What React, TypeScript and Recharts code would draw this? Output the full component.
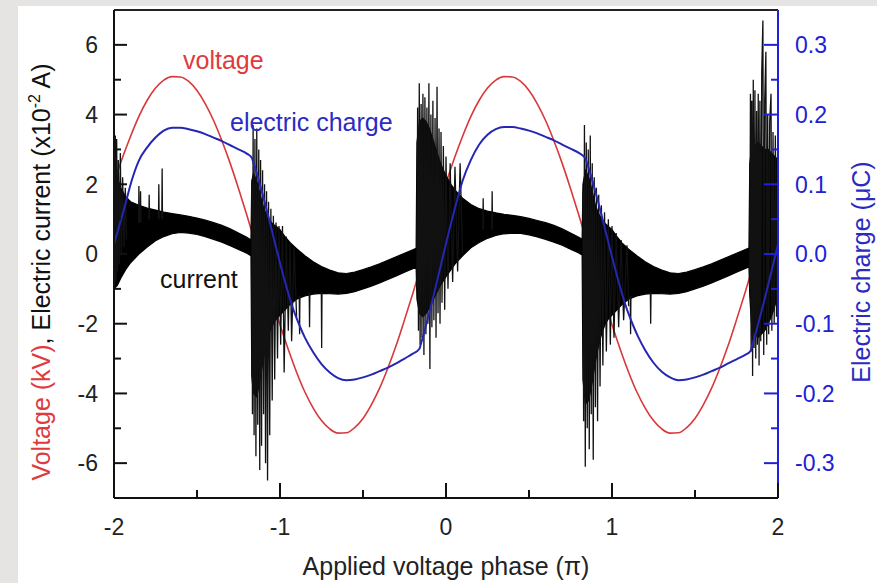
import React from "react";
import { ComposedChart, Line, Area, XAxis, YAxis, ReferenceLine } from "recharts";

const FONT = "'Liberation Sans', Arial, Helvetica, sans-serif";
const RED = "#d8383a";
const BLUE = "#2626b4";
const AXIS_BLUE = "#2020d8";

// tick positions
const phaseTicks = [-2, -1.5, -1, -0.5, 0, 0.5, 1, 1.5, 2];
const leftTicks = [-6, -5, -4, -3, -2, -1, 0, 1, 2, 3, 4, 5, 6];
const rightTicks = [-0.3, -0.25, -0.2, -0.15, -0.1, -0.05, 0, 0.05, 0.1, 0.15, 0.2, 0.25, 0.3];

// voltage (kV), sampled every 0.05 pi from -2 to 2
const voltageValues = [
  2.05, 2.75, 3.38, 3.95, 4.41, 4.76, 4.99, 5.09, 5.08, 4.95, 4.69, 4.31, 3.83, 3.25, 2.6, 1.88, 1.12, 0.32, -0.48, -1.27,
  -2.03, -2.74, -3.39, -3.96, -4.42, -4.78, -5.02, -5.14, -5.13, -4.98, -4.72, -4.33, -3.85, -3.27, -2.62, -1.89, -1.13, -0.33, 0.47, 1.26,
  2.03, 2.74, 3.38, 3.95, 4.41, 4.76, 4.99, 5.09, 5.08, 4.95, 4.69, 4.31, 3.83, 3.25, 2.6, 1.88, 1.12, 0.32, -0.48, -1.27,
  -2.03, -2.74, -3.39, -3.96, -4.42, -4.78, -5.02, -5.14, -5.13, -4.98, -4.72, -4.33, -3.85, -3.27, -2.62, -1.89, -1.13, -0.33, 0.47, 1.26,
  2.05,
];

// electric charge (uC): [phase, value]
const chargePoints: [number, number][] = [
  [-2, 0.014], [-1.94, 0.064], [-1.89, 0.108], [-1.85, 0.134], [-1.8, 0.153], [-1.75, 0.167], [-1.7, 0.177],
  [-1.65, 0.181], [-1.6, 0.181], [-1.55, 0.179], [-1.5, 0.176], [-1.45, 0.172], [-1.4, 0.167], [-1.35, 0.162],
  [-1.3, 0.156], [-1.25, 0.15], [-1.2, 0.144], [-1.17, 0.138], [-1.16, 0.131], [-0.91, -0.086], [-0.88, -0.104],
  [-0.85, -0.12], [-0.8, -0.141], [-0.75, -0.158], [-0.7, -0.17], [-0.65, -0.178], [-0.6, -0.181], [-0.55, -0.18],
  [-0.5, -0.177], [-0.45, -0.173], [-0.4, -0.168], [-0.35, -0.163], [-0.3, -0.157], [-0.25, -0.15], [-0.2, -0.143],
  [-0.16, -0.136], [-0.15, -0.128], [0.07, 0.08], [0.1, 0.105], [0.15, 0.135], [0.2, 0.157], [0.25, 0.171],
  [0.3, 0.179], [0.35, 0.182], [0.4, 0.182], [0.45, 0.18], [0.5, 0.177], [0.55, 0.173], [0.6, 0.168], [0.65, 0.163],
  [0.7, 0.157], [0.75, 0.151], [0.8, 0.145], [0.84, 0.137], [0.85, 0.13], [1.1, -0.086], [1.13, -0.104],
  [1.16, -0.12], [1.2, -0.138], [1.25, -0.156], [1.3, -0.169], [1.35, -0.177], [1.4, -0.181], [1.45, -0.18],
  [1.5, -0.177], [1.55, -0.173], [1.6, -0.168], [1.65, -0.163], [1.7, -0.157], [1.75, -0.151], [1.8, -0.145],
  [1.835, -0.139], [1.845, -0.131], [2, 0.014],
];

// electric current (x10^-2 A), dense band: [phase, low, high]
const currentBand: [number, number, number][] = [
  [-2, -1.0, 2.5], [-1.98, -0.9, 2.2], [-1.96, -0.7, 1.9], [-1.93, -0.45, 1.65], [-1.9, -0.25, 1.5],
  [-1.85, 0.0, 1.4], [-1.8, 0.2, 1.32], [-1.75, 0.38, 1.26], [-1.7, 0.5, 1.2], [-1.65, 0.58, 1.16],
  [-1.6, 0.62, 1.12], [-1.55, 0.6, 1.08], [-1.5, 0.56, 1.03], [-1.45, 0.5, 0.97], [-1.4, 0.42, 0.9],
  [-1.35, 0.34, 0.82], [-1.3, 0.24, 0.72], [-1.25, 0.13, 0.6], [-1.2, 0.02, 0.48], [-1.175, -0.05, 0.4],
  [-1.17, -3.5, 2.1], [-1.16, -4.0, 2.3], [-1.14, -4.1, 2.1], [-1.12, -3.6, 1.7], [-1.1, -3.0, 1.35],
  [-1.08, -2.5, 1.1], [-1.06, -2.2, 0.95], [-1.04, -2.0, 0.85], [-1.02, -1.85, 0.78], [-1.0, -1.75, 0.7],
  [-0.97, -1.6, 0.5], [-0.94, -1.45, 0.33], [-0.9, -1.3, 0.15], [-0.85, -1.2, -0.05], [-0.8, -1.15, -0.22],
  [-0.75, -1.13, -0.36], [-0.7, -1.14, -0.46], [-0.65, -1.15, -0.54], [-0.6, -1.13, -0.56], [-0.55, -1.08, -0.52],
  [-0.5, -1.0, -0.45], [-0.45, -0.92, -0.37], [-0.4, -0.83, -0.28], [-0.35, -0.73, -0.18], [-0.3, -0.63, -0.08],
  [-0.25, -0.52, 0.02], [-0.2, -0.42, 0.12], [-0.18, -0.38, 0.16], [-0.175, -1.3, 3.2], [-0.16, -1.7, 3.8],
  [-0.14, -1.8, 3.9], [-0.12, -1.7, 3.8], [-0.1, -1.55, 3.6], [-0.08, -1.35, 3.3], [-0.06, -1.15, 3.0],
  [-0.04, -0.95, 2.7], [-0.02, -0.8, 2.45], [0.0, -0.65, 2.25], [0.03, -0.45, 2.0], [0.06, -0.25, 1.8],
  [0.1, -0.05, 1.6], [0.15, 0.18, 1.42], [0.2, 0.33, 1.3], [0.25, 0.45, 1.23], [0.3, 0.53, 1.18],
  [0.35, 0.58, 1.14], [0.4, 0.6, 1.11], [0.45, 0.59, 1.07], [0.5, 0.55, 1.02], [0.55, 0.49, 0.96],
  [0.6, 0.42, 0.9], [0.65, 0.34, 0.82], [0.7, 0.25, 0.72], [0.75, 0.14, 0.6], [0.8, 0.03, 0.48],
  [0.82, -0.03, 0.42], [0.825, -3.6, 2.0], [0.84, -4.3, 2.4], [0.86, -4.2, 2.2], [0.88, -3.7, 1.8],
  [0.9, -3.1, 1.4], [0.92, -2.6, 1.15], [0.94, -2.25, 0.98], [0.96, -2.0, 0.87], [0.98, -1.85, 0.78],
  [1.0, -1.75, 0.7], [1.03, -1.6, 0.5], [1.06, -1.45, 0.32], [1.1, -1.3, 0.14], [1.15, -1.2, -0.05],
  [1.2, -1.15, -0.22], [1.25, -1.13, -0.36], [1.3, -1.14, -0.46], [1.35, -1.15, -0.54], [1.4, -1.13, -0.56],
  [1.45, -1.08, -0.52], [1.5, -1.0, -0.45], [1.55, -0.92, -0.37], [1.6, -0.83, -0.28], [1.65, -0.73, -0.18],
  [1.7, -0.63, -0.08], [1.75, -0.52, 0.02], [1.8, -0.42, 0.12], [1.825, -0.37, 0.17], [1.83, -1.2, 2.6],
  [1.84, -2.0, 3.0], [1.86, -2.3, 3.1], [1.88, -2.4, 3.2], [1.9, -2.3, 3.1], [1.92, -2.2, 3.0],
  [1.94, -2.0, 3.0], [1.96, -1.8, 2.9], [1.98, -1.5, 2.8], [2, -1.2, 2.7],
];

// discharge spikes of the current trace: [phase, value] runs
const currentSpikes: [number, number][][] = [
  [[-2, 2.6], [-1.996, -0.9], [-1.992, 3.4], [-1.988, -0.8], [-1.984, 3.3], [-1.979, -0.5], [-1.974, 2.7],
    [-1.968, -0.3], [-1.962, 2.9], [-1.955, 0.0], [-1.948, 2.2], [-1.94, 0.2], [-1.932, 1.9], [-1.925, 0.4]],
  [[-1.852, 0.9], [-1.85, 1.95], [-1.848, 0.9]],
  [[-1.842, 0.9], [-1.84, 1.8], [-1.838, 0.9]],
  [[-1.79, 1.0], [-1.788, 1.7], [-1.786, 1.0]],
  [[-1.732, 1.0], [-1.73, 2.0], [-1.728, 1.0]],
  [[-1.712, 1.0], [-1.71, 2.45], [-1.708, 1.0]],
  [[-1.17, 2.0], [-1.166, -4.6], [-1.162, 3.7], [-1.156, -5.2], [-1.151, 3.3], [-1.145, -5.8], [-1.14, 3.6],
    [-1.134, -4.9], [-1.128, 3.0], [-1.122, -6.2], [-1.117, 2.7], [-1.111, -5.5], [-1.105, 2.4], [-1.099, -4.6],
    [-1.093, 2.0], [-1.087, -6.0], [-1.081, 1.8], [-1.075, -6.5], [-1.069, 1.5], [-1.062, -5.2], [-1.055, 1.3],
    [-1.047, -4.2], [-1.04, 1.1], [-1.032, -3.6], [-1.024, 0.9], [-1.015, -3.0], [-1.006, 0.8], [-0.996, -2.6],
    [-0.985, 0.8], [-0.975, -3.4], [-0.962, 0.5], [-0.95, -2.2], [-0.94, 0.3], [-0.93, -2.5], [-0.915, 0.2], [-0.9, -1.8]],
  [[-0.884, -1.2], [-0.882, -2.3], [-0.88, -1.2]],
  [[-0.824, -1.1], [-0.822, -2.1], [-0.82, -1.1]],
  [[-0.751, -1.1], [-0.749, -2.7], [-0.747, -1.1]],
  [[-0.175, -1.0], [-0.171, 4.2], [-0.166, -2.2], [-0.161, 4.9], [-0.156, -2.6], [-0.15, 4.3], [-0.145, -2.4],
    [-0.139, 4.6], [-0.133, -2.9], [-0.127, 4.5], [-0.121, -2.3], [-0.115, 4.2], [-0.109, -2.0], [-0.103, 4.9],
    [-0.097, -3.3], [-0.091, 4.0], [-0.085, -2.1], [-0.079, 4.4], [-0.073, -1.9], [-0.066, 3.9], [-0.06, -2.4],
    [-0.054, 4.8], [-0.048, -1.7], [-0.042, 3.6], [-0.036, -2.0], [-0.03, 3.5], [-0.024, -1.4], [-0.016, 3.1],
    [-0.008, -1.6], [0.0, 2.8], [0.012, -1.0], [0.025, 2.6], [0.04, -0.8], [0.054, 2.5], [0.07, -0.5], [0.085, 2.6], [0.1, 0.0]],
  [[0.222, 0.7], [0.224, 1.6], [0.226, 0.7]],
  [[0.276, 0.7], [0.278, 1.8], [0.28, 0.7]],
  [[0.825, 1.8], [0.829, -4.8], [0.834, 3.7], [0.839, -6.1], [0.845, 3.2], [0.851, -5.0], [0.857, 3.0],
    [0.863, -5.6], [0.869, 3.4], [0.875, -4.6], [0.881, 2.6], [0.887, -5.9], [0.893, 2.2], [0.9, -4.4],
    [0.906, 1.9], [0.913, -4.8], [0.92, 1.7], [0.928, -3.8], [0.936, 1.4], [0.945, -3.2], [0.955, 1.2],
    [0.966, -2.8], [0.978, 1.0], [0.99, -2.6], [1.0, 0.8], [1.012, -2.4], [1.025, 0.6], [1.04, -2.1],
    [1.055, 0.4], [1.07, -1.9], [1.09, 0.25], [1.1, -1.5]],
  [[1.11, -1.2], [1.112, -2.3], [1.114, -1.2]],
  [[1.231, -1.1], [1.233, -2.0], [1.235, -1.1]],
  [[1.83, -1.0], [1.834, 4.6], [1.838, -2.8], [1.842, 4.4], [1.847, -3.5], [1.851, 5.0], [1.856, -2.7],
    [1.861, 4.7], [1.866, -3.0], [1.871, 4.1], [1.876, -2.6], [1.881, 4.6], [1.886, -3.2], [1.891, 4.4],
    [1.896, -2.5], [1.902, 5.2], [1.909, 6.7], [1.914, -2.9], [1.92, 4.4], [1.927, 5.8], [1.932, -2.6],
    [1.938, 4.0], [1.944, -2.3], [1.95, 3.8], [1.958, 4.6], [1.963, -2.2], [1.97, 3.5], [1.977, -2.0],
    [1.984, 3.4], [1.991, -1.8], [1.998, 3.2]],
];

const voltageData = voltageValues.map((v, i) => ({ phase: -2 + i * 0.05, voltage: v }));
const chargeData = chargePoints.map(([phase, q]) => ({ phase, charge: q }));
const bandData = currentBand.map(([phase, lo, hi]) => ({ phase, band: [lo, hi] }));
const spikeData: { phase: number; spike: number | null }[] = [];
currentSpikes.forEach((run) => {
  run.forEach(([phase, v]) => spikeData.push({ phase, spike: v }));
  spikeData.push({ phase: run[run.length - 1][0], spike: null });
});

const tickFont = { fontFamily: FONT, fontSize: 23 };

const LeftTick = (props: any) => {
  const { x, y, payload } = props;
  const major = payload.value % 2 === 0;
  return (
    <g>
      <line x1={x} x2={x + (major ? 13 : 7)} y1={y} y2={y} stroke="#111" strokeWidth={2} />
      {major && (
        <text x={x - 16} y={y} dy="0.36em" textAnchor="end" fill="#222" style={tickFont}>
          {payload.value}
        </text>
      )}
    </g>
  );
};

const RightTick = (props: any) => {
  const { x, y, payload } = props;
  const major = Math.round(payload.value * 100) % 10 === 0;
  return (
    <g>
      <line x1={x - (major ? 14 : 7)} x2={x} y1={y} y2={y} stroke={AXIS_BLUE} strokeWidth={2} />
      {major && (
        <text x={x + 17} y={y} dy="0.36em" textAnchor="start" fill={AXIS_BLUE} style={tickFont}>
          {payload.value.toFixed(1)}
        </text>
      )}
    </g>
  );
};

const BottomTick = (props: any) => {
  const { x, y, payload } = props;
  const major = Number.isInteger(payload.value);
  return (
    <g>
      <line x1={x} x2={x} y1={y - (major ? 15 : 8)} y2={y} stroke="#111" strokeWidth={2} />
      {major && (
        <text x={x} y={y + 37} textAnchor="middle" fill="#222" style={tickFont}>
          {payload.value}
        </text>
      )}
    </g>
  );
};

export default function App() {
  return (
    <div style={{ position: "absolute", left: 0, top: 0, width: 877, height: 583, background: "#e6e4e2", overflow: "hidden" }}>
      <div style={{ position: "absolute", left: 18, top: 6, right: 0, bottom: 0, background: "#fff" }} />
      <div style={{ position: "absolute", left: 0, top: 0 }}>
        <ComposedChart width={877} height={583} margin={{ top: 10, right: 39, bottom: 45, left: 54 }}>
          <XAxis
            dataKey="phase"
            type="number"
            domain={[-2, 2]}
            allowDataOverflow
            ticks={phaseTicks}
            interval={0}
            height={40}
            tickSize={0}
            tickMargin={0}
            tickLine={false}
            tick={<BottomTick />}
            axisLine={{ stroke: "#111", strokeWidth: 2 }}
          />
          <YAxis
            yAxisId="left"
            type="number"
            domain={[-7, 7]}
            allowDataOverflow
            ticks={leftTicks}
            interval={0}
            width={60}
            tickSize={0}
            tickMargin={0}
            tickLine={false}
            tick={<LeftTick />}
            axisLine={{ stroke: "#111", strokeWidth: 2 }}
          />
          <YAxis
            yAxisId="right"
            orientation="right"
            type="number"
            domain={[-0.35, 0.35]}
            allowDataOverflow
            ticks={rightTicks}
            interval={0}
            width={60}
            tickSize={0}
            tickMargin={0}
            tickLine={false}
            tick={<RightTick />}
            axisLine={{ stroke: AXIS_BLUE, strokeWidth: 2 }}
          />
          <ReferenceLine yAxisId="left" y={7} stroke="#222" strokeWidth={2} />
          {/* voltage drawn as an unfilled area so the current trace covers it */}
          <Area
            yAxisId="left"
            data={voltageData}
            dataKey="voltage"
            type="monotone"
            stroke={RED}
            strokeWidth={1.6}
            fill="none"
            baseValue={0}
            dot={false}
            activeDot={false}
            isAnimationActive={false}
          />
          <Area
            yAxisId="left"
            data={bandData}
            dataKey="band"
            type="linear"
            stroke="#000"
            strokeWidth={1.2}
            fill="#000"
            fillOpacity={1}
            dot={false}
            activeDot={false}
            isAnimationActive={false}
          />
          <Line
            yAxisId="left"
            data={spikeData}
            dataKey="spike"
            type="linear"
            stroke="#111"
            strokeWidth={1.3}
            dot={false}
            activeDot={false}
            connectNulls={false}
            isAnimationActive={false}
          />
          <Line
            yAxisId="right"
            data={chargeData}
            dataKey="charge"
            type="monotone"
            stroke={BLUE}
            strokeWidth={2}
            dot={false}
            activeDot={false}
            isAnimationActive={false}
          />
        </ComposedChart>
      </div>
      <svg width={877} height={583} style={{ position: "absolute", left: 0, top: 0, pointerEvents: "none" }}>
        <g style={{ fontFamily: FONT, fontSize: 25 }}>
          <text x={183} y={69} fill="#e03a3c">voltage</text>
          <text x={230} y={131} fill="#2b2bc4">electric charge</text>
          <text x={160} y={288} fill="#111">current</text>
          <text transform="translate(50,272) rotate(-90)" textAnchor="middle">
            <tspan fill="#e03a3c">Voltage (kV)</tspan>
            <tspan fill="#111">, Electric current (x10</tspan>
            <tspan fill="#111" fontSize={16} dy={-10}>-2</tspan>
            <tspan fill="#111" dy={10}> A)</tspan>
          </text>
          <text transform="translate(870,272) rotate(-90)" textAnchor="middle" fill="#2b2bc4">
            Electric charge (μC)
          </text>
          <text x={446} y={575} textAnchor="middle" fill="#222">
            Applied voltage phase (π)
          </text>
        </g>
      </svg>
    </div>
  );
}
